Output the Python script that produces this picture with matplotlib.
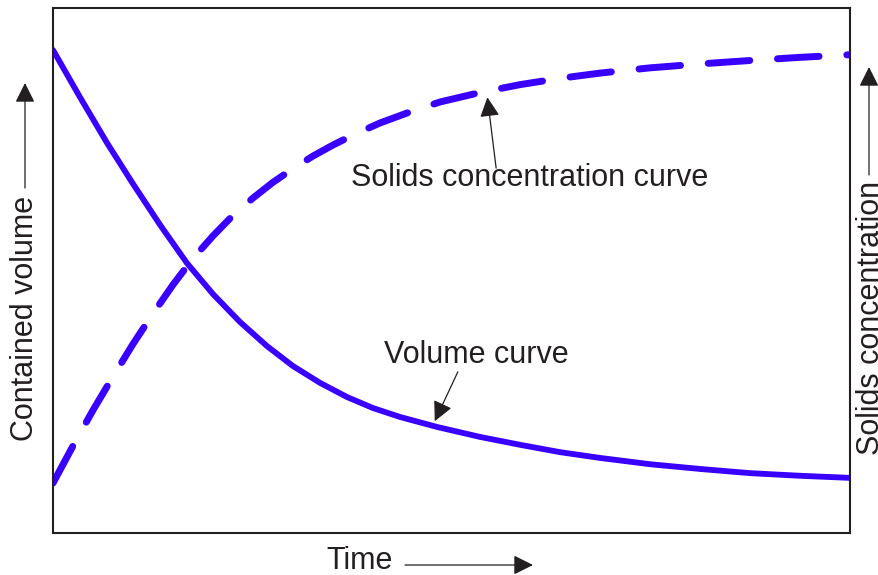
#!/usr/bin/env python3
"""
Schematic: contained volume and solids concentration against time.
"""

import matplotlib
matplotlib.use("Agg")
import matplotlib.pyplot as plt

plt.rcParams['font.family'] = ['Liberation Sans', 'DejaVu Sans']

# Volume curve (solid), time and value on a 0-100 scale
vol_time = [0, 3.39, 6.78, 10.04, 13.43, 16.81, 20.08, 23.46, 26.85, 30.11,
            33.50, 36.89, 40.15, 43.54, 48.18, 53.58, 58.59, 63.61, 68.63,
            74.91, 81.18, 87.45, 93.73, 100]
vol_value = [92.0, 83.0, 74.3, 66.5, 58.7, 51.4, 45.5, 40.2, 35.6, 31.8,
             28.6, 25.9, 23.8, 22.1, 20.2, 18.3, 16.8, 15.4, 14.3,
             13.1, 12.2, 11.4, 10.9, 10.5]

# Solids concentration curve (dashed)
conc_time = [0, 2.51, 5.02, 7.53, 10.04, 12.55, 15.06, 17.57, 20.08, 22.58,
             25.09, 27.60, 30.11, 32.62, 35.13, 37.64, 41.03, 44.79, 48.56,
             53.58, 58.59, 63.61, 68.63, 74.91, 81.18, 87.45, 93.73, 100]
conc_value = [9.5, 16.6, 23.4, 29.8, 36.0, 41.8, 47.3, 52.3, 56.6, 60.5,
              63.8, 66.8, 69.4, 71.8, 73.9, 75.8, 78.1, 80.2, 82.1,
              83.9, 85.4, 86.6, 87.6, 88.6, 89.35, 90.0, 90.6, 91.1]

W, H = 879, 575
blue = '#3a00ff'
dark = '#231f20'


def fx(px):
    return px / W


def fy(py):
    return 1 - py / H


def main():
    fig = plt.figure(figsize=(W / 100, H / 100), dpi=100)
    ax = fig.add_axes([fx(53), fy(533), 797 / W, 525 / H])

    ax.plot(vol_time, vol_value, '-', color=blue, lw=4.2,
            solid_capstyle='round', solid_joinstyle='round')
    ax.plot(conc_time, conc_value, '-', color=blue, lw=5.0,
            dashes=(6, 4), dash_capstyle='round', dash_joinstyle='round')

    ax.set_xlim(0, 100)
    ax.set_ylim(0, 100)
    ax.set_xticks([])
    ax.set_yticks([])
    for sp in ax.spines.values():
        sp.set_color(dark)
        sp.set_linewidth(1.5)

    head = dict(arrowstyle='-|>', mutation_scale=30, lw=0.9,
                color=dark, shrinkA=0, shrinkB=0)

    # curve labels with pointers
    ax.annotate('', xy=(54.5, 83.0), xytext=(55.6, 69.5), arrowprops=head)
    ax.text(59.8, 67.6, 'Solids concentration curve', fontsize=22, color=dark,
            ha='center', va='center')
    ax.annotate('', xy=(47.9, 21.3), xytext=(50.8, 30.7), arrowprops=head)
    ax.text(53.1, 33.9, 'Volume curve', fontsize=22, color=dark,
            ha='center', va='center')

    # axis labels with arrows
    fig.text(fx(360), fy(561), 'Time', fontsize=22, color=dark,
             ha='center', va='center')
    fig.text(fx(25), fy(318), 'Contained volume', fontsize=22, color=dark,
             rotation=90, ha='center', va='center')
    fig.text(fx(871), fy(318), 'Solids concentration', fontsize=22, color=dark,
             rotation=90, ha='center', va='center')

    axis_arrow = dict(arrowstyle='-|>', mutation_scale=30, lw=0.9,
                      color=dark, shrinkA=0, shrinkB=0)
    fig_ax = fig.add_axes([0, 0, 1, 1], facecolor='none')
    fig_ax.set_axis_off()
    fig_ax.set_xlim(0, W)
    fig_ax.set_ylim(H, 0)
    fig_ax.annotate('', xy=(533, 565), xytext=(405, 565), arrowprops=axis_arrow)
    fig_ax.annotate('', xy=(25, 83), xytext=(25, 188), arrowprops=axis_arrow)
    fig_ax.annotate('', xy=(869, 67), xytext=(869, 175), arrowprops=axis_arrow)

    plt.savefig('out.png', dpi=100)


if __name__ == "__main__":
    main()
